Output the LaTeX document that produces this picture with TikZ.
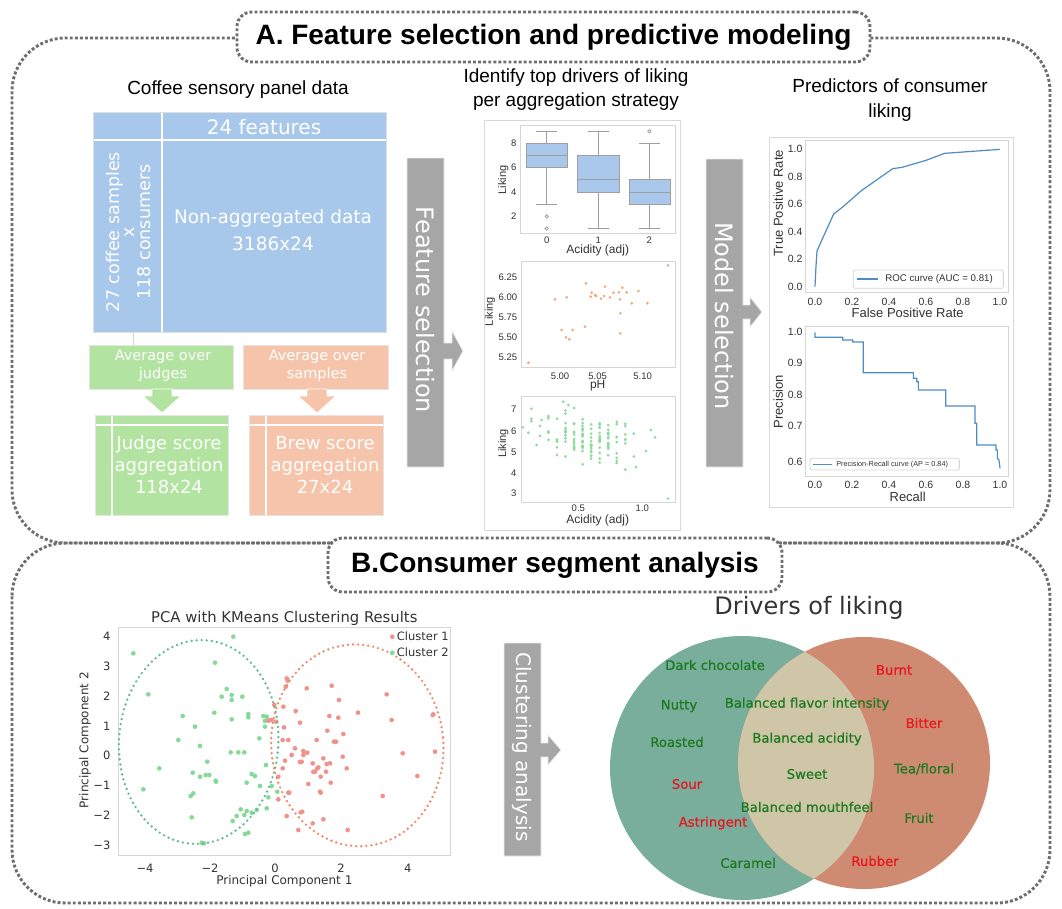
\documentclass[tikz,border=0pt]{standalone}
\usepackage{fontspec}
\setmainfont{Liberation Sans}
\newfontfamily\dv{DejaVu Sans}
\newfontfamily\dvb[FakeBold=0.7]{DejaVu Sans}
\newcommand\fs[1]{\fontsize{\fpeval{0.75*#1}pt}{\fpeval{0.9*#1}pt}\selectfont}
\newcommand\fsl[2]{\fontsize{\fpeval{0.75*#1}pt}{\fpeval{0.75*#2}pt}\selectfont}
\definecolor{tblue}{HTML}{A7C8EA}
\definecolor{tgreen}{HTML}{B3E3A0}
\definecolor{torange}{HTML}{F6C4AA}
\definecolor{arrgray}{HTML}{A6A6A6}
\definecolor{dotgray}{HTML}{6E6E6E}
\definecolor{boxblue}{HTML}{A9C8EC}
\definecolor{scorange}{HTML}{F7A77A}
\definecolor{scgreen}{HTML}{8EDC9C}
\definecolor{rocblue}{HTML}{4F8CC4}
\definecolor{vleft}{HTML}{78AE9B}
\definecolor{vright}{HTML}{CE8B71}
\definecolor{vmid}{HTML}{CFC5A7}
\definecolor{vgreen}{HTML}{1C7A1F}
\definecolor{vred}{HTML}{E8171F}
\definecolor{pcgreen}{HTML}{86DA98}
\definecolor{pcpink}{HTML}{F2918B}
\definecolor{elgreen}{HTML}{62BC92}
\definecolor{elorange}{HTML}{F08B6A}
\definecolor{axgray}{HTML}{D5D5D5}
\definecolor{txtgray}{HTML}{333333}
\tikzset{
  panel/.style={draw=dotgray, line width=2.2pt, dash pattern=on 2.2pt off 1.6pt, rounded corners=40pt},
  titlebox/.style={draw=dotgray, fill=white, line width=2.2pt, dash pattern=on 2.2pt off 1.6pt, rounded corners=11pt, inner sep=0pt},
  hdr/.style={font=\fsl{19}{24}, text=black, align=center, inner sep=0pt},
  wtxt/.style={text=white, inner sep=0pt, align=center},
  blockarrow/.style={fill=arrgray, draw=white!85!gray, line width=0.6pt},
  colarrow/.style={draw=white, line width=0.6pt},
  arrtxt/.style={text=white, font=\dv\fs{24}, inner sep=0pt},
  axframe/.style={draw=axgray, line width=0.6pt},
  tick/.style={text=txtgray, inner sep=0pt},
  lab/.style={text=txtgray, inner sep=0pt},
  whisk/.style={draw=gray!75, line width=0.6pt},
  bxp/.style={fill=boxblue, draw=gray!75, line width=0.6pt},
  rocline/.style={draw=rocblue, line width=0.9pt},
  ellip/.style={line width=2pt, dash pattern=on 0pt off 3.8pt, line cap=round},
  vlab/.style={font=\dvb\fs{13.2}, inner sep=0pt},
}
\begin{document}
\begin{tikzpicture}[x=0.75pt,y=-0.75pt]
\useasboundingbox (0,0) rectangle (1062,908);
\fill[white] (0,0) rectangle (1062,908);
% ---------- panels ----------
\draw[panel] (12,38) rectangle (1050,543);
\draw[panel] (12,543) rectangle (1050,903);
\node[titlebox, minimum width=474.75pt, minimum height=37.5pt, font=\fs{28}\bfseries] (tA) at (553.5,37) {A. Feature selection and predictive modeling};
\node[titlebox, minimum width=340.5pt, minimum height=40.5pt, font=\fs{28}\bfseries] (tB) at (555,565) {B.Consumer segment analysis};
% ---------- headers ----------
\node[hdr] (h1) at (238,90) {Coffee sensory panel data};
\node[hdr] (h2) at (576,89.5) {Identify top drivers of liking\\per aggregation strategy};
\node[hdr, font=\fsl{19}{25}] (h3) at (890,100.5) {Predictors of consumer\\liking};
% ---------- data table ----------
\fill[tblue] (93,112) rectangle (386,332);
\draw[white, line width=1.5pt] (93,140) -- (386,140) (162,112) -- (162,332);
\draw[gray!25, line width=0.6pt] (93,112) rectangle (386,332);
\node[wtxt, font=\dv\fs{20}] (feat) at (264,127) {24 features};
\node[wtxt, font=\dv\fsl{18.5}{27}] (nonagg) at (273,230) {Non-aggregated data\\3186x24};
\node[wtxt, font=\dv\fsl{17.5}{15.5}, rotate=90] (samp) at (128,232) {27 coffee samples\\x\\118 consumers};
\coordinate (ln1) at (133,332);
\coordinate (ln2) at (133,345);
\draw[gray!35, line width=0.6pt] (ln1) -- (ln2);
% green branch
\fill[tgreen] (89,345) rectangle (233,389);
\draw[gray!20, line width=0.5pt] (89,345) rectangle (233,389);
\node[wtxt, font=\dv\fsl{14.5}{18}] (avj) at (163,366) {Average over\\judges};
\filldraw[fill=tgreen, colarrow] (152,389) -- (172,389) -- (172,396) -- (181,396) -- (162,413) -- (143,396) -- (152,396) -- cycle;
\fill[tgreen] (95,415) rectangle (228,515);
\draw[white, line width=1.2pt] (95,425) -- (228,425) (112,415) -- (112,515);
\draw[gray!20, line width=0.5pt] (95,415) rectangle (228,515);
\node[wtxt, font=\dv\fsl{18}{22}] (jsa) at (169,465) {Judge score\\aggregation\\118x24};
% orange branch
\fill[torange] (243,345) rectangle (388,389);
\draw[gray!20, line width=0.5pt] (243,345) rectangle (388,389);
\node[wtxt, font=\dv\fsl{14.5}{18}] (avs) at (317,366) {Average over\\samples};
\filldraw[fill=torange, colarrow] (307,389) -- (327,389) -- (327,396) -- (336,396) -- (317,413) -- (298,396) -- (307,396) -- cycle;
\fill[torange] (249,415) rectangle (383,515);
\draw[white, line width=1.2pt] (249,425) -- (383,425) (266,415) -- (266,515);
\draw[gray!20, line width=0.5pt] (249,415) rectangle (383,515);
\node[wtxt, font=\dv\fsl{18}{22}] (bsa) at (325,465) {Brew score\\aggregation\\27x24};
% ---------- gray block arrows ----------
\filldraw[blockarrow] (407,158) -- (444,158) -- (444,343) -- (452,343) -- (452,331) -- (463,351) -- (452,371) -- (452,359) -- (444,359) -- (444,467) -- (407,467) -- cycle;
\node[arrtxt, rotate=-90] (fsel) at (425.5,310) {Feature selection};
\filldraw[blockarrow] (706,159) -- (743,159) -- (743,305) -- (750,305) -- (750,297) -- (762,312) -- (750,327) -- (750,319) -- (743,319) -- (743,467) -- (706,467) -- cycle;
\node[arrtxt, rotate=-90] (msel) at (724.5,316) {Model selection};
\filldraw[blockarrow] (504,643) -- (541,643) -- (541,743) -- (548,743) -- (548,735) -- (561,750) -- (548,765) -- (548,757) -- (541,757) -- (541,856) -- (504,856) -- cycle;
\node[arrtxt, font=\dv\fs{20}, rotate=-90] (clan) at (522.5,747) {Clustering analysis};
% ---------- middle plots ----------
\begin{scope}[shift={(470,100)}, x=0.25pt, y=-0.25pt]
\draw[draw=gray!30, fill=white, line width=0.6pt] (42,62) rectangle (632,1290);
% boxplot
\draw[axframe] (152,75) rectangle (615,400);
\draw[whisk] (230,93.5) -- (230,130) (230,203) -- (230,312.5) (199,93.5) -- (261,93.5) (199,312.5) -- (261,312.5);
\draw[bxp] (168,130) rectangle (292,203);
\draw[whisk] (168,166.5) -- (292,166.5);
\draw[whisk] (230,349) circle (5) (230,385.5) circle (5);
\draw[whisk] (385,93.5) -- (385,166.5) (385,276) -- (385,385.5) (354,93.5) -- (416,93.5) (354,385.5) -- (416,385.5);
\draw[bxp] (322,166.5) rectangle (447,276);
\draw[whisk] (322,239.5) -- (447,239.5);
\draw[whisk] (538,130) -- (538,239.5) (538,312.5) -- (538,385.5) (508,130) -- (569,130) (508,385.5) -- (569,385.5);
\draw[bxp] (477,239.5) rectangle (600,312.5);
\draw[whisk] (477,276) -- (600,276);
\draw[whisk] (538,93.5) circle (5);
\foreach \v/\yy [count=\i] in {8/130,6/203,4/276,2/349}
  \node[tick, font=\fs{9.5}, anchor=east] (bt\i) at (140,\yy) {\v};
\foreach \v/\xx [count=\i] in {0/230,1/385,2/538}
  \node[tick, font=\fs{9.5}] (bx\i) at (\xx,420) {\v};
\node[lab, font=\fs{12}] (bxl) at (383,452) {Acidity (adj)};
\node[lab, font=\fs{11}, rotate=90] (byl) at (100,240) {Liking};
% orange scatter
\draw[axframe] (155,485) rectangle (615,803);
\foreach \p/\q in {175/788,255/598,290/592,275/690,288/712,298/718,308/690,345/680,348/550,362/590,365/578,375/585,378/588,393/596,405/560,402/588,420/592,430/578,447/577,450/598,451/640,451/700,457/563,470/577,485/610,505/573,532/610,594/496}
  \fill[scorange] (\p,\q) circle (4.5);
\foreach \v/\yy [count=\i] in {6.25/533,6.00/592,5.75/652,5.50/711,5.25/771}
  \node[tick, font=\fs{9.5}, anchor=east] (st\i) at (142,\yy) {\v};
\foreach \v/\xx [count=\i] in {5.00/270,5.05/383,5.10/518}
  \node[tick, font=\fs{9.5}] (sx\i) at (\xx,828) {\v};
\node[lab, font=\fs{12}] (sxl) at (383,858) {pH};
\node[lab, font=\fs{11}, rotate=90] (syl) at (60,635) {Liking};
% green scatter
\draw[axframe] (155,888) rectangle (615,1208);
\pgfmathsetseed{11}
\foreach \k in {1,...,130}{
  \pgfmathsetmacro{\ax}{round((0.55+0.55*(rand+rand+rand)/3)*15)/15}
  \pgfmathsetmacro{\ay}{5.75-1.0*(\ax-0.55)+1.6*(rand+rand+rand)/3}
  \fill[scgreen] ({325+(\ax-0.5)*384},{993-(\ay-6)*63.5}) circle (4.5);
}
\foreach \p/\q in {594/1196,175/998,555/1012,528/1053,498/1101,200/1035,215/960,235/955,280/905,295/915}
  \fill[scgreen] (\p,\q) circle (4.5);
\foreach \v/\yy [count=\i] in {7/928,6/993,5/1057,4/1120,3/1180}
  \node[tick, font=\fs{9.5}, anchor=east] (gt\i) at (140,\yy) {\v};
\foreach \v/\xx [count=\i] in {0.5/325,1.0/517}
  \node[tick, font=\fs{9.5}] (gx\i) at (\xx,1225) {\v};
\node[lab, font=\fs{12}] (gxl) at (383,1260) {Acidity (adj)};
\node[lab, font=\fs{11}, rotate=90] (gyl) at (100,1030) {Liking};
\end{scope}
% ---------- right plots ----------
\begin{scope}[shift={(760,100)}, x=0.25pt, y=-0.25pt]
\draw[draw=gray!30, fill=white, line width=0.6pt] (28,112) rectangle (760,1222);
\draw[axframe] (137,122) rectangle (745,578);
\draw[rocline] (165,560) -- (168,498) -- (171,453) -- (182,428) -- (221,342) -- (248,321) -- (304,272) -- (398,206) -- (426,202) -- (498,181) -- (554,160) -- (609,156) -- (720,148);
\foreach \v/\yy [count=\i] in {1.0/148,0.8/230,0.6/313,0.4/395,0.2/477,0.0/560}
  \node[tick, font=\fs{10.5}, anchor=east] (rt\i) at (128,\yy) {\v};
\foreach \v/\xx [count=\i] in {0.0/165,0.2/276,0.4/387,0.6/498,0.8/609,1.0/720}
  \node[tick, font=\fs{10.5}] (rx\i) at (\xx,605) {\v};
\node[lab, font=\fs{13}] (rxl) at (443,640) {False Positive Rate};
\node[lab, font=\fs{13}, rotate=90] (ryl) at (55,310) {True Positive Rate};
\draw[draw=axgray, fill=white, rounded corners=1.5pt, line width=0.6pt] (280,510) rectangle (730,565);
\draw[rocline] (290,537) -- (355,537);
\node[lab, font=\fs{9.7}, anchor=west] (rocleg) at (375,537) {ROC curve (AUC = 0.81)};
% PR
\draw[axframe] (137,678) rectangle (745,1130);
\draw[rocline] (165,697) -- (165,712) -- (248,712) -- (248,720) -- (278,720) -- (278,726) -- (310,726) -- (310,818) -- (460,818) -- (460,835) -- (470,835) -- (470,845) -- (475,845) -- (475,870) -- (557,870) -- (557,918) -- (645,918) -- (645,970) -- (650,970) -- (650,1035) -- (708,1035) -- (708,1050) -- (712,1050) -- (712,1075) -- (717,1080) -- (720,1105);
\foreach \v/\yy [count=\i] in {1.0/697,0.9/790,0.8/885,0.7/978,0.6/1085}
  \node[tick, font=\fs{10.5}, anchor=east] (pt\i) at (128,\yy) {\v};
\foreach \v/\xx [count=\i] in {0.0/165,0.2/276,0.4/387,0.6/498,0.8/609,1.0/720}
  \node[tick, font=\fs{10.5}] (px\i) at (\xx,1155) {\v};
\node[lab, font=\fs{13}] (pxl) at (443,1190) {Recall};
\node[lab, font=\fs{13}, rotate=90] (pyl) at (55,905) {Precision};
\draw[draw=axgray, fill=white, rounded corners=1.5pt, line width=0.6pt] (150,1075) rectangle (598,1110);
\draw[rocline] (160,1093) -- (215,1093);
\node[lab, font=\fs{7.3}, anchor=west] (prleg) at (228,1093) {Precision-Recall curve (AP = 0.84)};
\end{scope}
% ---------- PCA ----------
\begin{scope}[shift={(60,590)}, x=0.25pt, y=-0.25pt]
\node[lab, font=\dv\fs{14.8}] (pcat) at (673,85) {PCA with KMeans Clustering Results};
\draw[axframe] (175,112) rectangle (1172,795);
\foreach \p/\q in {220/190,265/313,520/140,465/218,500/297,485/320,515/315,515/330,547/320,368/378,463/368,405/410,515/388,565/372,565/382,610/378,620/380,615/393,615/410,632/390,355/450,420/468,598/445,512/487,535/487,553/487,442/515,298/535,618/525,398/548,437/555,448/555,420/560,250/598,467/572,468/575,575/552,585/558,560/578,600/588,635/588,625/622,652/605,400/610,392/618,395/682,542/658,560/663,575/668,590/660,620/655,530/678,553/675,518/693,555/732,565/728,425/758,432/760}
  \fill[pcgreen] (\p,\q) circle (7);
\foreach \p/\q in {680/265,683/272,677/290,740/295,815/287,837/330,643/345,670/350,707/363,894/368,808/378,835/383,995/390,1118/375,1120/373,980/313,672/412,720/398,802/422,850/432,770/450,822/455,828/455,668/450,685/450,705/475,730/483,742/488,625/392,635/390,648/395,730/495,695/495,675/512,720/516,725/515,758/520,790/505,848/500,800/522,810/520,1028/490,1125/485,760/545,772/535,765/545,775/532,860/535,798/545,782/560,812/578,745/582,655/560,655/628,685/608,688/608,780/605,782/608,968/618,1072/558,680/678,722/667,727/665,758/700,790/688,715/720,863/720,668/535}
  \fill[pcpink] (\p,\q) circle (7);
\draw[ellip, elgreen, rotate around={-4:(416,456)}] (416,456) ellipse [x radius=239, y radius=306];
\draw[ellip, elorange, rotate around={5:(892,466)}] (892,466) ellipse [x radius=258, y radius=303];
\fill[pcpink] (997,140) circle (7);
\node[lab, font=\dv\fs{11.5}, anchor=west] (cl1) at (1010,140) {Cluster 1};
\fill[pcgreen] (997,188) circle (7);
\node[lab, font=\dv\fs{11.5}, anchor=west] (cl2) at (1010,188) {Cluster 2};
\foreach \v/\xx [count=\i] in {−4/255,−2/450,0/645,2/843,4/1043}
  \node[tick, font=\dv\fs{11.5}] (qx\i) at (\xx,835) {\v};
\foreach \v/\yy [count=\i] in {4/140,3/228,2/318,1/408,0/497,−1/587,−2/677,−3/765}
  \node[tick, font=\dv\fs{11.5}, anchor=east] (qy\i) at (152,\yy) {\v};
\node[lab, font=\dv\fs{12}] (pcx) at (673,875) {Principal Component 1};
\node[lab, font=\dv\fs{12}, rotate=90] (pcy) at (75,450) {Principal Component 2};
\end{scope}
% ---------- Venn ----------
\node[lab, font=\dv\fs{24}] (drv) at (809,608) {Drivers of liking};
\fill[vleft] (742,768) circle (132);
\fill[vright] (864,763) circle (126);
\begin{scope}
  \clip (742,768) circle (132);
  \fill[vmid] (864,763) circle (126);
\end{scope}
\node[vlab, text=vgreen] (v1) at (715,665) {Dark chocolate};
\node[vlab, text=vgreen] (v2) at (679,706) {Nutty};
\node[vlab, text=vgreen] (v3) at (677,742) {Roasted};
\node[vlab, text=vred] (v4) at (687,784) {Sour};
\node[vlab, text=vred] (v5) at (713,823) {Astringent};
\node[vlab, text=vgreen] (v6) at (748,863) {Caramel};
\node[vlab, text=vgreen] (v7) at (807,704) {Balanced flavor intensity};
\node[vlab, text=vgreen] (v8) at (807,739) {Balanced acidity};
\node[vlab, text=vgreen] (v9) at (807,774) {Sweet};
\node[vlab, text=vgreen] (v10) at (807,807) {Balanced mouthfeel};
\node[vlab, text=vred] (v11) at (894,670) {Burnt};
\node[vlab, text=vred] (v12) at (924,723) {Bitter};
\node[vlab, text=vgreen] (v13) at (924,769) {Tea/floral};
\node[vlab, text=vgreen] (v14) at (919,818) {Fruit};
\node[vlab, text=vred] (v15) at (875,861) {Rubber};
\end{tikzpicture}
\end{document}
